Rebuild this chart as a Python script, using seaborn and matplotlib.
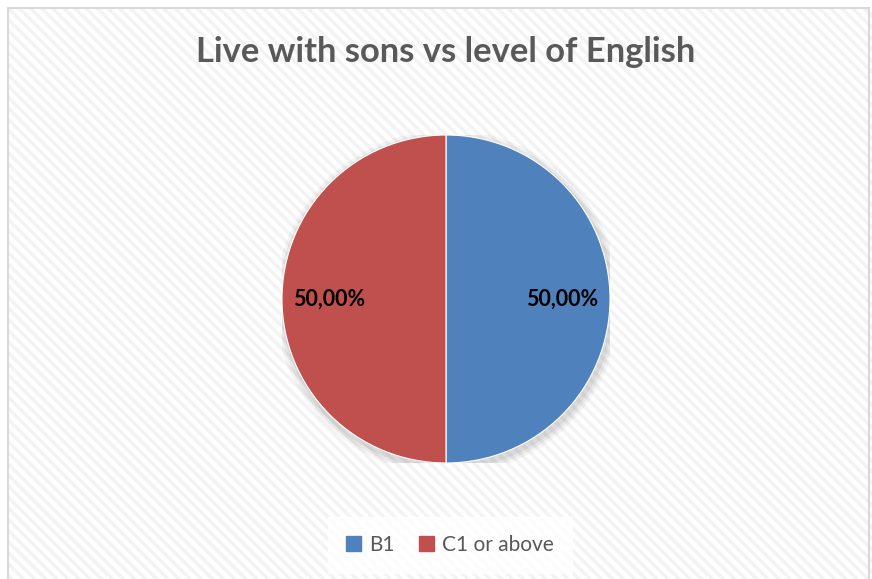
import matplotlib
matplotlib.use("Agg")
import matplotlib.pyplot as plt
import matplotlib.patches as mpatches
import seaborn as sns

# Data
categories = ["B1", "C1 or above"]
shares = [50.0, 50.0]
colors = ["#4F81BD", "#C0504D"]
title = "Live with sons vs level of English"

sns.set_style("white")
plt.rcParams["font.family"] = ["Lato", "DejaVu Sans"]
plt.rcParams["hatch.linewidth"] = 2.5

fig = plt.figure(figsize=(8.72, 5.79), dpi=100)
fig.patch.set_facecolor("white")

# Chart area with light diagonal pattern and thin grey border
bg = mpatches.Rectangle((8 / 872, 0), 1 - 8 / 872, 1 - 8 / 579, transform=fig.transFigure,
                        facecolor="white", edgecolor="#f3f3f3", hatch="\\\\\\",
                        linewidth=0, zorder=-10)
fig.patches.append(bg)
border = mpatches.Rectangle((8 / 872, -0.01), 1 - 8 / 872 - 3 / 872, 1 - 8 / 579 + 0.01,
                            transform=fig.transFigure, facecolor="none",
                            edgecolor="#d9d9d9", linewidth=1.5, zorder=-5)
fig.patches.append(border)

# Pie axes: centre (446, 299), radius ~164 px
r = 164
cx, cy = 446, 299
ax = fig.add_axes([(cx - r) / 872, (579 - cy - r) / 579, 2 * r / 872, 2 * r / 579])
ax.set_facecolor("none")

# soft shadow
for a, s in [(0.04, 1.05), (0.05, 1.033), (0.06, 1.016)]:
    ax.add_patch(mpatches.Circle((0.01, -0.02), s, color="black", alpha=a, zorder=0, lw=0))

wedges, texts, autotexts = ax.pie(
    shares, colors=colors, startangle=90, counterclock=False,
    autopct=lambda p: f"{p:.2f}%".replace(".", ","), pctdistance=0.71,
    wedgeprops=dict(linewidth=0.8, edgecolor="white"),
    textprops=dict(fontsize=15.5, fontweight="bold", color="black"),
)
for w in wedges:
    w.set_zorder(2)
for t in autotexts:
    t.set_zorder(3)
ax.set_xlim(-1, 1)
ax.set_ylim(-1, 1)
ax.set_aspect("equal")
ax.axis("off")

fig.text(446 / 872, 1 - 52 / 579, title, ha="center", va="center",
         fontsize=24.8, fontweight="bold", color="#595959")

handles = [mpatches.Patch(color=c, label=l) for c, l in zip(colors, categories)]
leg = fig.legend(handles=handles, loc="center", bbox_to_anchor=(450 / 872, 1 - 545 / 579),
                 ncol=2, frameon=True, fontsize=15, handlelength=0.7, handleheight=0.7,
                 handletextpad=0.4, columnspacing=1.2, borderpad=0.55)
leg.get_frame().set_facecolor("white")
leg.get_frame().set_edgecolor("white")
leg.get_frame().set_boxstyle("square")
for t in leg.get_texts():
    t.set_color("#595959")

fig.savefig("out.png", dpi=100)
